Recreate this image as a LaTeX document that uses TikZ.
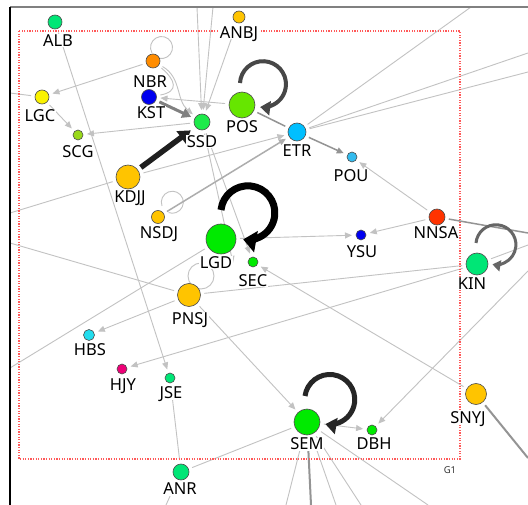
\documentclass[tikz,border=0pt]{standalone}
\usepackage{fontspec}
\setmainfont{Noto Sans}
\usetikzlibrary{arrows.meta,backgrounds}

\definecolor{mint}{HTML}{00E676}
\definecolor{leaf}{HTML}{00EA00}
\definecolor{sprout}{HTML}{1DEA4A}
\definecolor{lime}{HTML}{66E600}
\definecolor{olive}{HTML}{99D91A}
\definecolor{lemon}{HTML}{FAF200}
\definecolor{gold}{HTML}{FFC400}
\definecolor{amber}{HTML}{FF8C00}
\definecolor{deepblue}{HTML}{0000F0}
\definecolor{sky}{HTML}{00BFFF}
\definecolor{skylight}{HTML}{33BBEE}
\definecolor{ember}{HTML}{FF3300}
\definecolor{aqua}{HTML}{22DDEE}
\definecolor{berry}{HTML}{EE0077}

\begin{document}
\begin{tikzpicture}[x=1pt, y=1pt,
  dot/.style={circle, draw=black!70, line width=0.6pt, inner sep=0pt, outer sep=4pt},
  lab/.style={fill=white, inner sep=0.6pt, text height=11.8pt, text depth=0pt,
    font=\fontsize{16.5}{18}\selectfont},
  lnk/.style={draw=black!24, line width=0.9pt, -{Triangle[length=7pt,width=6pt]}},
  lnkp/.style={draw=black!24, line width=0.9pt},
  lnkm/.style={draw=black!42, line width=1.5pt},
  lnkk/.style={draw=black!50, line width=3pt, -{Triangle[length=9pt,width=10pt]}},
  lnkb/.style={draw=black!88, line width=5.5pt, -{Triangle[length=12pt,width=15pt]}},
  loopblack/.style={draw=black, line width=7pt, -{Triangle[length=13pt,width=21pt]}},
  loopdark/.style={draw=black!85, line width=5pt, -{Triangle[length=11pt,width=16pt]}},
  loopgray/.style={draw=black!72, line width=4pt, -{Triangle[length=10pt,width=14pt]}},
  loopkin/.style={draw=black!60, line width=3pt, -{Triangle[length=8pt,width=11pt]}}]

\useasboundingbox (0,0) rectangle (528,-505);

% frame and group box
\draw[draw=black!50, line width=2pt] (10,-7) -- (528,-7);
\draw[draw=black, line width=1.2pt] (10,-7) -- (10,-505);
\draw[draw=red!65, line width=1.3pt, dash pattern=on 1.3pt off 1.3pt] (19,-31) rectangle (460,-459);
\node[font=\fontsize{9.5}{11}\selectfont, text=black!80] (g1) at (450,-470) {G1};

% nodes
\foreach \nm/\x/\y/\d/\c in {alb/55/22/14/mint, anbj/239/17/12/gold, nbr/153/61/14/amber,
  kst/149/97/15/deepblue, lgc/42/97/14/lemon, scg/78/135/10/olive, ssd/202/122/16/sprout,
  pos/242/105/26/lime, etr/297/132/18/sky, pou/352/157/10/skylight, kdjj/128/177/24/gold,
  nsdj/158/217/13/gold, lgd/221/239/30/leaf, sec/253/262/10/leaf, ysu/361/235/10/deepblue,
  nnsa/437/217/16/ember, kin/477/264/22/mint, pnsj/189/295/23/gold, hbs/89/335/11/aqua,
  hjy/122/369/10/berry, jse/170/378/10/mint, snyj/476/394/21/gold, sem/307/422/26/leaf,
  dbh/372/430/10/leaf, anr/181/472/16/mint}
  {
  \node[dot, minimum size=\d pt, fill=\c] (\nm) at (\x,-\y) {};
  }

% labels
\foreach \nm/\x/\y/\t in {alb/58/41/ALB, anbj/239/33/ANBJ, nbr/150/82/NBR, kst/151/113/KST,
  lgc/40/116/LGC, scg/78/152/SCG, ssd/202/142/SSD, pos/242/127/POS, kdjj/130/197/KDJJ,
  nsdj/159/233/NSDJ, etr/297/151/ETR, pou/351/176/POU, nnsa/436/233/NNSA, ysu/362/252/YSU,
  lgd/216/263/LGD, sec/253/281/SEC, kin/472/284/KIN, pnsj/190/319/PNSJ, hbs/90/350/HBS,
  hjy/123/385/HJY, jse/171/393/JSE, snyj/468/418/SNYJ, sem/307/444/SEM, dbh/374/444/DBH,
  anr/180/489/ANR}
  {
  \node[lab] (\nm-t) at (\x,-\y) {\t};
  }

% ends outside the frame
\coordinate (topA) at (197,-7);
\coordinate (topB) at (213,-7);
\coordinate (trA) at (471,-7);
\coordinate (trB) at (528,-53);
\coordinate (trC) at (528,-72);
\coordinate (rtA) at (528,-233);
\coordinate (rtB) at (528,-245);
\coordinate (rtC) at (528,-271);
\coordinate (brA) at (528,-458);
\coordinate (lfA) at (10,-213);
\coordinate (lfB) at (10,-243);
\coordinate (lfC) at (10,-368);
\coordinate (lfD) at (10,-93);
\coordinate (btA) at (286,-505);
\coordinate (btB) at (311,-505);
\coordinate (btC) at (336,-505);
\coordinate (btD) at (361,-505);
\coordinate (btE) at (428,-505);
\coordinate (btF) at (166,-505);

\begin{scope}[on background layer]
\fill[white] (0,0) rectangle (528,-505);

% thin links
\draw[lnk] (nbr) -- (lgc);
\draw[lnk] (lgc) -- (scg);
\draw[lnk] (ssd) -- (scg);
\draw[lnk] (alb) -- (jse);
\draw[lnk] (topA) -- (ssd);
\draw[lnk] (topB) -- (ssd);
\draw[lnk] (anbj) -- (ssd);
\draw[lnk] (nbr) to[out=-30, in=140] (ssd);
\draw[lnk] (pos) -- (kst);
\draw[lnk] (kdjj) -- (etr);
\draw[lnk] (nnsa) -- (pou);
\draw[lnk] (nnsa) -- (ysu);
\draw[lnk] (lgd) -- (ysu);
\draw[lnk] (kin) -- (hjy);
\draw[lnk] (rtC) -- (dbh);
\draw[lnk] (snyj) -- (sec);
\draw[lnk] (sem) -- (dbh);
\draw[lnk] (pnsj) -- (sem);
\draw[lnk] (pnsj) -- (hbs);
\draw[lnk] (ssd) -- (sec);
\draw[lnk] (ssd) -- (lgd-t.east);

\draw[lnkp] (lfD) -- (lgc);
\draw[lnkp] (etr) -- (trA);
\draw[lnkp] (etr) -- (trB);
\draw[lnkp] (etr) -- (trC);
\draw[lnkp] (kin) -- (rtB);
\draw[lnkp] (kin) -- (pnsj);
\draw[lnkp] (anr) -- (sem);
\draw[lnkp] (jse) -- (anr);
\draw[lnkp] (lfA) -- (kdjj);
\draw[lnkp] (lfB) -- (pnsj);
\draw[lnkp] (lfC) -- (lgd);
\draw[lnkp] (anr) -- (btF);
\draw[lnkp] (sem) -- (btA);
\draw[lnkp] (sem) -- (btC);
\draw[lnkp] (sem) -- (btD);
\draw[lnkp] (sem) -- (btE);
\draw[lnkp] (nbr) to[out=-40, in=10, looseness=1.8] (kst);
\draw[lnkp] (nbr) ++(-1,8) arc[start angle=210, end angle=-100, radius=11];
\draw[lnkp] (nsdj) ++(4,11) arc[start angle=200, end angle=-110, radius=11];
\draw[lnkp] (pnsj) ++(12,19) circle[radius=13];

% heavier links
\draw[lnkm] (pos) -- (etr);
\draw[lnkm, -{Triangle[length=7pt,width=6pt]}] (etr) -- (pou);
\draw[lnkm, draw=black!32, -{Triangle[length=7pt,width=6pt]}] (nsdj) -- (etr);
\draw[lnkm] (nnsa) -- (rtA);
\draw[lnkm, line width=2pt] (snyj) -- (brA);
\draw[lnkm, line width=2pt] (sem) -- (btB);
\draw[lnkk] (kst) -- (ssd);
\draw[lnkb, shorten >=2pt] (kdjj) -- (ssd);

% self loops
\draw[loopgray] (pos) ++(-2,22) arc[start angle=177, end angle=-97, radius=23];
\draw[loopblack] (lgd) ++(0,29) arc[start angle=174, end angle=-100, radius=27];
\draw[loopdark] (sem) ++(-2,26) arc[start angle=172, end angle=-100, radius=25];
\draw[loopkin] (kin) ++(-1,21) arc[start angle=175, end angle=-100, radius=20];
\end{scope}

\end{tikzpicture}
\end{document}
